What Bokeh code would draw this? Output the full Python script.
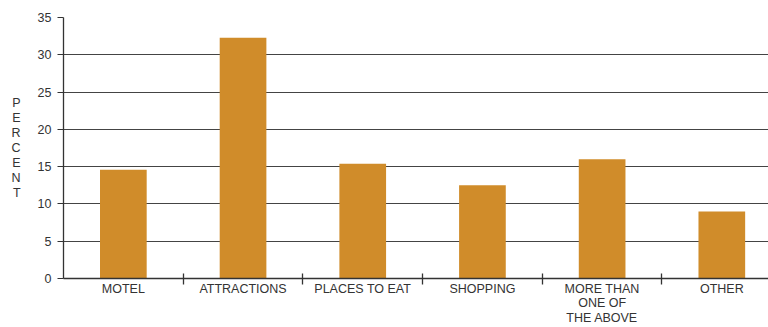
from bokeh.plotting import figure
from bokeh.models import Range1d, FixedTicker, ColumnDataSource
from bokeh.embed import file_html
from bokeh.resources import INLINE

categories = ["MOTEL", "ATTRACTIONS", "PLACES TO EAT", "SHOPPING",
              "MORE THAN\nONE OF\nTHE ABOVE", "OTHER"]
percent = [14.6, 32.3, 15.4, 12.5, 16.0, 9.0]
y_ticks = [0, 5, 10, 15, 20, 25, 30, 35]

xs = [i + 0.5 for i in range(len(categories))]
src = ColumnDataSource(dict(x=xs, top=percent))

p = figure(width=768, height=327, output_backend="svg", toolbar_location=None,
           x_range=Range1d(0, 5.89), y_range=Range1d(0, 35),
           min_border_left=63, min_border_right=0, min_border_top=17,
           min_border_bottom=49)
p.outline_line_color = None
p.background_fill_color = "white"

p.vbar(x="x", top="top", width=0.39, bottom=0, source=src,
       fill_color="#D08C2A", line_color=None)

FONT = "Liberation Sans"
TXT = "#333333"

# x axis
p.xaxis.ticker = FixedTicker(ticks=xs, minor_ticks=list(range(1, len(categories))))
p.xaxis.major_label_overrides = {x: c for x, c in zip(xs, categories)}
p.xaxis.major_tick_out = 0
p.xaxis.major_tick_in = 0
p.xaxis.minor_tick_out = 6
p.xaxis.minor_tick_in = 5
p.xaxis.minor_tick_line_color = "#333333"
p.xaxis.minor_tick_line_width = 1.3
p.xaxis.major_label_standoff = -3
p.xaxis.major_label_text_font = FONT
p.xaxis.major_label_text_font_size = "12.5px"
p.xaxis.major_label_text_color = TXT
p.xaxis.major_label_text_line_height = 1.04
p.xaxis.axis_line_color = "#333333"
p.xaxis.axis_line_width = 1.3

# y axis
p.yaxis.ticker = FixedTicker(ticks=y_ticks, minor_ticks=[])
p.yaxis.major_tick_out = 6
p.yaxis.major_tick_in = 0
p.yaxis.major_tick_line_color = "#333333"
p.yaxis.major_label_standoff = 6
p.yaxis.major_label_text_font = FONT
p.yaxis.major_label_text_font_size = "12.5px"
p.yaxis.major_label_text_color = TXT
p.yaxis.axis_line_color = "#333333"
p.yaxis.axis_line_width = 1.3
p.yaxis.axis_label = "P\nE\nR\nC\nE\nN\nT"
p.yaxis.axis_label_orientation = "horizontal"
p.yaxis.axis_label_text_font = FONT
p.yaxis.axis_label_text_font_size = "12.5px"
p.yaxis.axis_label_text_font_style = "normal"
p.yaxis.axis_label_text_color = TXT
p.yaxis.axis_label_standoff = 14
p.yaxis.axis_label_text_line_height = 1.07

p.xgrid.grid_line_color = None
p.ygrid.ticker = FixedTicker(ticks=y_ticks[1:])
p.ygrid.grid_line_color = "#444444"
p.ygrid.grid_line_width = 1.2

open("out.html", "w").write(file_html(p, INLINE))
